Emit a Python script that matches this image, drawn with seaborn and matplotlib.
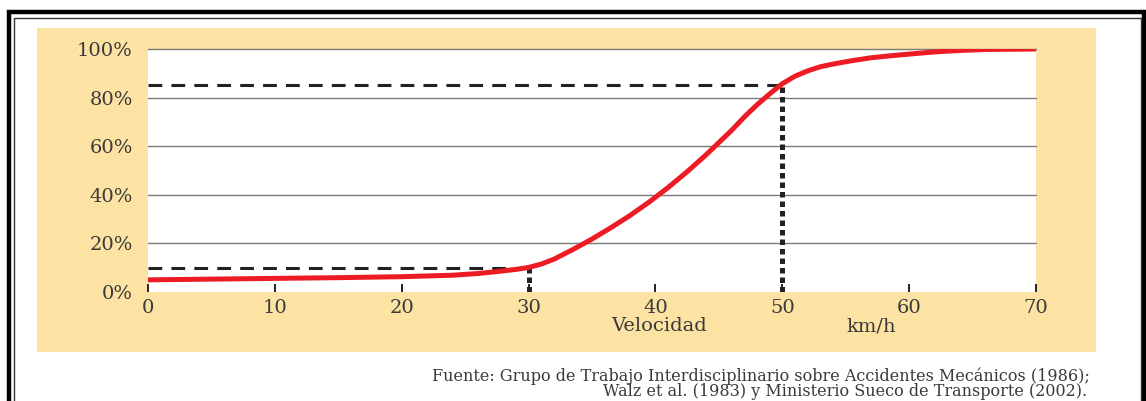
import seaborn as sns
import matplotlib.pyplot as plt
import pandas as pd
from matplotlib.patches import Rectangle

# curve (speed in km/h, share in %)
velocidad = [0, 5, 10, 15, 20, 24, 26, 27.5, 29, 30, 31, 32, 33.5, 35, 36.5, 38, 39.5,
             41, 42.5, 44, 45, 46, 47, 48, 49, 50, 51, 52, 53, 54, 55.5, 57, 58.5, 60,
             62, 64, 66, 68, 70]
porcentaje = [5.0, 5.3, 5.6, 5.9, 6.3, 6.9, 7.6, 8.4, 9.3, 10.1, 11.5, 13.5, 17.5, 21.8,
              26.5, 31.5, 37, 43, 49.5, 56.5, 61.5, 66.5, 72, 77, 81.5, 85.7, 88.8, 91,
              92.7, 93.8, 95.2, 96.4, 97.2, 97.9, 98.8, 99.4, 99.8, 99.9, 100]
x_ticks = [0, 10, 20, 30, 40, 50, 60, 70]
y_ticks = [0, 20, 40, 60, 80, 100]
y_labels = ['0%', '20%', '40%', '60%', '80%', '100%']
# reference markers
marca_x = [30, 50]
marca_y = [10, 85]

df = pd.DataFrame({'velocidad': velocidad, 'porcentaje': porcentaje})

sns.set_theme(style='white')
plt.rcParams['font.family'] = ['DejaVu Serif']
texto = '#3a3a3a'

fig = plt.figure(figsize=(11.46, 4.01), dpi=100)
W, H = 1146, 401

# yellow panel behind the chart
fig.patches.append(Rectangle((37 / W, 1 - 352 / H), 1059 / W, 324 / H,
                             transform=fig.transFigure, facecolor='#fde3a3',
                             edgecolor='none', zorder=0))
# double frame
fig.patches.append(Rectangle((8.5 / W, -0.1), 1135.5 / W, 1.1 - 12 / H,
                             transform=fig.transFigure, fill=False,
                             edgecolor='black', linewidth=3.2, zorder=0))
fig.patches.append(Rectangle((13.5 / W, -0.1), 1127 / W, 1.1 - 18 / H,
                             transform=fig.transFigure, fill=False,
                             edgecolor='#333333', linewidth=1.0, zorder=0))

ax = fig.add_axes([148 / W, 1 - 292 / H, 888 / W, 243 / H])
ax.set_facecolor('white')
ax.set_zorder(1)

for v in y_ticks[1:]:
    ax.axhline(v, color='#7a7a7a', linewidth=1.0, zorder=1, clip_on=False)

# dashed guides
for mx, my in zip(marca_x, marca_y):
    ax.plot([0, mx], [my, my], color='#222222', linewidth=2.2,
            dashes=(4.5, 3), zorder=2, clip_on=False)
    ax.plot([mx, mx], [0, my], color='#222222', linewidth=3.6,
            dashes=(1.1, 0.8), zorder=2)

sns.lineplot(data=df, x='velocidad', y='porcentaje', ax=ax, color='#ed1c24',
             linewidth=3.6, zorder=3)

ax.set_xlim(0, 70)
ax.set_ylim(0, 100)
ax.set_xticks(x_ticks)
ax.set_xticklabels([str(t) for t in x_ticks])
ax.set_yticks(y_ticks)
ax.set_yticklabels(y_labels)
ax.tick_params(axis='x', bottom=True, direction='in', length=6, width=1.4,
               color='#222222', labelsize=14, labelcolor=texto, pad=5)
ax.tick_params(axis='y', left=False, length=0, labelsize=14, labelcolor=texto, pad=11)
for s in ax.spines.values():
    s.set_visible(False)
ax.set_xlabel('')
ax.set_ylabel('')

ax.text(40.3, -14, 'Velocidad', ha='center', va='center', fontsize=14,
        color=texto, transform=ax.transData)
ax.text(57, -14, 'km/h', ha='center', va='center', fontsize=14,
        color=texto, transform=ax.transData)

fig.text(1090 / W, 1 - 376 / H,
         'Fuente: Grupo de Trabajo Interdisciplinario sobre Accidentes Mecánicos (1986);',
         ha='right', va='center', fontsize=11.5, color=texto)
fig.text(1087 / W, 1 - 392 / H,
         'Walz et al. (1983) y Ministerio Sueco de Transporte (2002).',
         ha='right', va='center', fontsize=11.5, color=texto)

fig.savefig('out.png', dpi=100)
